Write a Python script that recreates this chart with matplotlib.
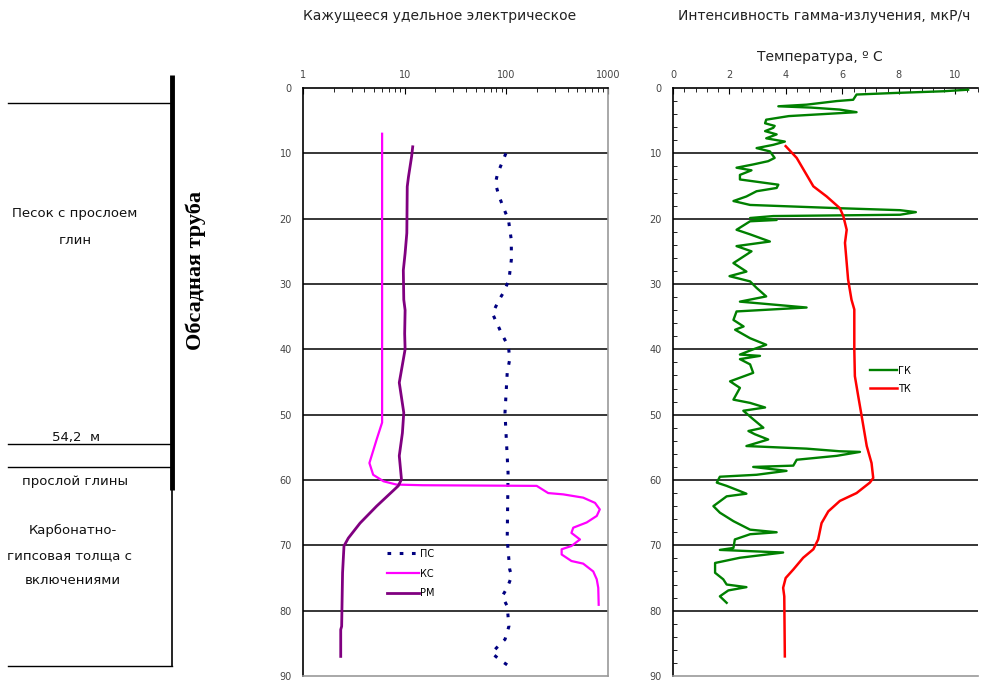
import numpy as np
import matplotlib.pyplot as plt
from matplotlib.ticker import MultipleLocator, NullFormatter

plt.rcParams['font.family'] = ['DejaVu Sans']

# ПС (dotted), depth vs value, Ohm*m
ps_depth = [10, 13.1, 14.6, 16.6, 18.2, 20.2, 23.3, 26.3, 29.4, 31.4, 32.4, 34.5, 35.5,
            37.6, 39.6, 41.5, 43.6, 49.7, 53.8, 58.9, 69.1, 73.7, 74.7, 76.5, 77.8,
            79.3, 82.4, 84.4, 85.7, 86.5, 87.5, 88.3]
ps_val = [99, 82, 78, 85, 93, 105, 112, 112, 106, 93, 85, 73, 78,
          90, 105, 108, 102, 97, 100, 104, 102, 108, 113, 102, 91,
          102, 106, 97, 80, 72, 86, 102]

# КС (magenta)
ks_depth = [7, 51.2, 53.8, 57.4, 59.2, 60.2, 60.7, 60.8, 60.9, 62.0, 62.2, 62.7, 63.5,
            64.5, 65.5, 66.5, 67.3, 68.1, 69.1, 70.1, 70.6, 71.4, 72.4, 72.8, 74.0,
            75.2, 76.5, 79.1]
ks_val = [6.0, 6.0, 5.3, 4.5, 4.9, 6.2, 8.3, 15, 199, 258, 363, 570, 745,
          830, 775, 617, 455, 437, 530, 437, 350, 350, 437, 570, 716,
          775, 802, 810]

# РМ (purple)
rm_depth = [9, 10.5, 13.6, 15.1, 22.2, 25.3, 27.9, 32.4, 34.0, 37.6, 40.0, 45.1, 49.7,
            52.8, 56.3, 59.9, 60.9, 64.0, 66.6, 68.9, 70.1, 74.2, 82.4, 82.9, 87.0]
rm_val = [12.0, 11.7, 10.9, 10.6, 10.5, 10.1, 9.7, 9.8, 10.1, 10.0, 10.1, 8.85, 9.8,
          9.5, 8.85, 9.3, 8.65, 5.3, 3.64, 2.79, 2.53, 2.45, 2.4, 2.35, 2.35]

# ГК gamma, mkR/h
gk_depth = [0.26, 0.5, 0.77, 1.0, 1.8, 2.0, 2.55, 2.8, 3.0, 3.3, 3.7, 4.3, 4.85, 5.4,
            5.8, 6.1, 6.6, 7.1, 7.7, 8.2, 8.7, 9.2, 9.7, 10.7, 11.2, 11.7, 12.2, 12.6,
            13.3, 14.0, 14.8, 15.3, 15.8, 16.6, 17.3, 17.9, 18.4, 18.7, 19.0, 19.4,
            19.6, 19.9, 20.2, 20.4, 21.7, 22.4, 23.5, 24.2, 25.0, 26.8, 28.1, 28.8,
            29.6, 30.6, 31.9, 32.7, 33.6, 34.2, 35.5, 36.5, 37.0, 38.3, 39.3, 40.0,
            40.8, 41.0, 41.5, 42.3, 43.6, 44.9, 45.9, 47.7, 48.2, 48.9, 49.4, 50.7,
            52.0, 52.5, 53.0, 53.8, 54.8, 55.2, 55.6, 55.7, 56.3, 56.9, 57.8, 58.0,
            58.6, 59.2, 59.5, 60.4, 60.9, 61.7, 62.1, 62.5, 64.0, 65.0, 66.3, 67.6,
            68.0, 68.3, 69.1, 70.4, 70.7, 71.1, 71.9, 72.7, 74.2, 75.2, 76.0, 76.4,
            76.9, 77.8, 78.8]
gk_val = [10.45, 9.57, 7.8, 6.5, 6.38, 5.8, 4.73, 3.73, 4.9, 5.9, 6.5, 4.1, 3.3, 3.26,
          3.6, 3.55, 3.26, 3.67, 3.3, 3.96, 3.55, 2.96, 3.43, 3.6, 3.37, 2.84, 2.25, 2.78,
          2.37, 2.37, 3.73, 3.67, 2.96, 2.6, 2.14, 2.73, 5.9, 8.04, 8.6, 8.04,
          3.55, 2.73, 3.67, 2.73, 2.25, 2.73, 3.43, 2.25, 2.78, 2.14, 2.6, 2.0,
          2.73, 2.96, 3.3, 2.37, 4.73, 2.25, 2.14, 2.5, 2.2, 2.73, 3.3, 2.84,
          2.37, 3.08, 2.37, 2.73, 2.84, 2.02, 2.37, 2.14, 2.73, 3.26, 2.49, 2.84,
          3.2, 2.67, 2.9, 3.37, 2.6, 4.73, 5.9, 6.62, 5.8, 4.38, 4.26, 2.84,
          4.02, 2.96, 1.66, 1.55, 1.9, 2.37, 2.6, 1.9, 1.43, 1.66, 2.14, 2.73,
          3.67, 2.73, 2.19, 2.14, 1.66, 3.9, 2.37, 1.49, 1.49, 1.78, 1.9, 2.6,
          1.96, 1.66, 1.9]

# ТК temperature, C
tk_depth = [8.9, 10.7, 15.05, 16.6, 18.4, 19.6, 21.7, 23.7, 29.3, 32.4, 33.9, 40, 44.1,
            47.2, 50.2, 54.8, 57.4, 59.7, 60.4, 62, 63.2, 64.8, 66.6, 69.1, 70.6, 71.9,
            73.7, 75, 76.5, 77.8, 87]
tk_val = [3.99, 4.38, 4.97, 5.44, 5.91, 6.03, 6.15, 6.09, 6.2, 6.32, 6.42, 6.42, 6.44,
          6.56, 6.68, 6.86, 7.03, 7.09, 6.97, 6.5, 5.91, 5.5, 5.26, 5.14, 4.97, 4.61,
          4.26, 3.99, 3.9, 3.94, 3.96]

W, H = 982, 682
fig = plt.figure(figsize=(W / 100, H / 100), dpi=100)

def fx(px):
    return px / W

def fy(py):
    return 1 - py / H

# left lithology column, drawn in pixel coords
lith = fig.add_axes([0, 0, 1, 1])
lith.set_xlim(0, W)
lith.set_ylim(H, 0)
lith.axis('off')
for yy in [103, 444, 467, 666]:
    lith.plot([8, 172], [yy, yy], color='black', lw=1)
lith.plot([172, 172], [75, 490], color='black', lw=3.5, solid_capstyle='butt')
lith.plot([172, 172], [490, 666], color='black', lw=1.2)
tk_style = dict(fontsize=9.5, ha='center', va='center', color='#111111')
lith.text(75, 214, 'Песок с прослоем', **tk_style)
lith.text(75, 240, 'глин', **tk_style)
lith.text(76, 437, '54,2  м', **tk_style)
lith.text(75, 481, 'прослой глины', **tk_style)
lith.text(73, 530, 'Карбонатно-', **tk_style)
lith.text(70, 556, 'гипсовая толща с', **tk_style)
lith.text(73, 581, 'включениями', **tk_style)
lith.text(196, 270, 'Обсадная труба', rotation=90, ha='center', va='center',
          fontsize=16, fontweight='bold', family='Liberation Serif')

# titles
fig.text(fx(440), fy(16), 'Кажущееся удельное электрическое', ha='center', va='center',
         fontsize=10, color='#222222')
fig.text(fx(824), fy(16), 'Интенсивность гамма-излучения, мкР/ч', ha='center', va='center',
         fontsize=10, color='#222222')
fig.text(fx(820), fy(57), 'Температура, º С', ha='center', va='center',
         fontsize=10, color='#222222')


def style_axes(ax):
    ax.set_ylim(90, 0)
    ax.yaxis.set_major_locator(MultipleLocator(10))
    ax.xaxis.tick_top()
    ax.tick_params(axis='both', which='both', direction='in', labelsize=7,
                   labelcolor='#444444', colors='black')
    ax.tick_params(axis='y', which='major', length=0, pad=8)
    ax.tick_params(axis='x', which='major', length=4, pad=6)
    ax.tick_params(axis='both', which='minor', length=3)
    for yy in range(10, 90, 10):
        ax.axhline(yy, color='black', lw=1.1, zorder=1)
    ax.spines['left'].set_color('black')
    ax.spines['top'].set_color('black')
    ax.spines['right'].set_color('#999999')
    ax.spines['bottom'].set_color('#999999')
    for s in ax.spines.values():
        s.set_linewidth(1.2)


# resistivity panel
ax1 = fig.add_axes([fx(303), fy(676), fx(608) - fx(303), fy(88) - fy(676)])
ax1.set_xscale('log')
ax1.set_xlim(1, 1000)
style_axes(ax1)
ax1.set_xticks([1, 10, 100, 1000])
ax1.set_xticklabels(['1', '10', '100', '1000'])
minor = [m * 10 ** e for e in range(3) for m in range(2, 10)]
ax1.set_xticks(minor, minor=True)
ax1.xaxis.set_minor_formatter(NullFormatter())
ax1.plot(ps_val, ps_depth, color='#000080', lw=2.2, linestyle=(0, (1.2, 2.8)), label='ПС', zorder=3)
ax1.plot(ks_val, ks_depth, color='#ff00ff', lw=1.6, label='КС', zorder=3)
ax1.plot(rm_val, rm_depth, color='#800080', lw=2, label='РМ', zorder=3)
ax1.legend(loc='upper left', bbox_to_anchor=(fx(383), fy(545)), bbox_transform=fig.transFigure,
           frameon=False, fontsize=7, handlelength=3.3, handletextpad=0.1, labelspacing=1.0,
           borderaxespad=0)

# gamma / temperature panel
ax2 = fig.add_axes([fx(673), fy(676), fx(978) - fx(673), fy(88) - fy(676)])
ax2.set_xlim(0, 10.8)
style_axes(ax2)
ax2.spines['right'].set_visible(False)
ax2.xaxis.set_major_locator(MultipleLocator(2))
ax2.xaxis.set_minor_locator(MultipleLocator(0.4))
ax2.yaxis.set_minor_locator(MultipleLocator(2))
ax2.plot(gk_val, gk_depth, color='#008000', lw=1.7, label='ГК', zorder=3)
ax2.plot(tk_val, tk_depth, color='#ff0000', lw=1.8, label='ТК', zorder=3)
ax2.legend(loc='upper left', bbox_to_anchor=(fx(866), fy(362)), bbox_transform=fig.transFigure,
           frameon=False, fontsize=7, handlelength=2.8, handletextpad=0.1, labelspacing=0.8,
           borderaxespad=0)

fig.savefig('out.png', dpi=100)
